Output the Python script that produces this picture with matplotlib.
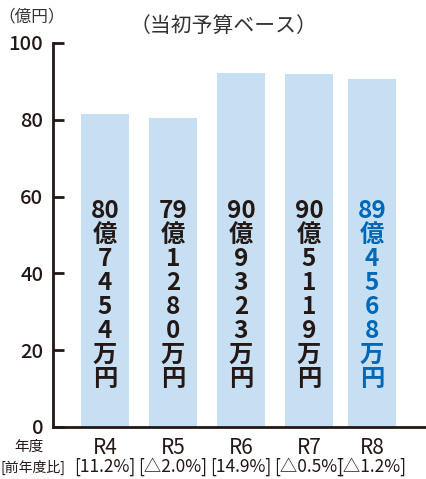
import matplotlib
matplotlib.use('Agg')
import matplotlib.pyplot as plt
import matplotlib.transforms as mtransforms

plt.rcParams['font.family'] = ['Noto Sans CJK JP', 'DejaVu Sans']

# data
years = ['R4', 'R5', 'R6', 'R7', 'R8']
ratio = ['[11.2%]', '[△2.0%]', '[14.9%]', '[△0.5%]', '[△1.2%]']
bar_height = [81.6, 80.5, 92.3, 92.0, 90.7]   # 億円 (bar tops as drawn)
oku = ['80', '79', '90', '90', '89']
man = ['7454', '1280', '9323', '5119', '4568']
yticks = [0, 20, 40, 60, 80, 100]

xpos = [0, 1, 2, 3, 3.926]
dark = '#231815'
blue = '#0068b7'
barc = '#c7dff2'

W, H = 427, 479
fig = plt.figure(figsize=(W / 100, H / 100), dpi=100)
ax = fig.add_axes([53 / W, (H - 427) / H, (W - 53) / W, (427 - 43) / H])

ax.bar(xpos, bar_height, width=0.706, color=barc, zorder=1)
ax.set_xlim(-0.765, 4.735)
ax.set_ylim(0, 100)

for s in ['top', 'right']:
    ax.spines[s].set_visible(False)
for s in ['left', 'bottom']:
    ax.spines[s].set_linewidth(2)
    ax.spines[s].set_color(dark)
    ax.spines[s].set_zorder(3)

ax.set_yticks(yticks)
ax.tick_params(axis='y', direction='in', length=8, width=2, color=dark,
               pad=7, labelsize=14.5, labelcolor=dark)
for t in ax.get_yticklabels():
    t.set_fontweight('medium')
ax.set_xticks([])

# vertical labels inside bars
for i in range(len(years)):
    col = blue if i == len(years) - 1 else dark
    chars = [oku[i], '億'] + list(man[i]) + ['万', '円']
    n = len(chars)
    for j, ch in enumerate(chars):
        off = mtransforms.offset_copy(ax.transData, fig=fig,
                                      y=-(j - (n - 1) / 2) * 24, units='dots')
        ax.text(xpos[i], 34.5, ch, transform=off, ha='center', va='center',
                fontsize=17.5, fontweight='bold', color=col, zorder=4)

# x labels
tr = mtransforms.blended_transform_factory(ax.transData, fig.transFigure)
for i in range(len(years)):
    ax.text(xpos[i], 1 - 448 / H, years[i], transform=tr, ha='center',
            va='center', fontsize=15, color=dark)
    ax.text(xpos[i], 1 - 467 / H, ratio[i], transform=tr, ha='center',
            va='center', fontsize=12.5, color=dark)

fig.text(29 / W, 1 - 447 / H, '年度', ha='center', va='center',
         fontsize=10.5, color=dark)
fig.text(1 / W, 1 - 467 / H, '[前年度比]', ha='left', va='center',
         fontsize=10, color=dark)

fig.text(223 / W, 1 - 26 / H, '（当初予算ベース）', ha='center', va='center',
         fontsize=15, color='#333333')
fig.text(32 / W, 1 - 17 / H, '（億円）', ha='center', va='center',
         fontsize=12, color='#333333')

fig.savefig('out.png', dpi=100)
